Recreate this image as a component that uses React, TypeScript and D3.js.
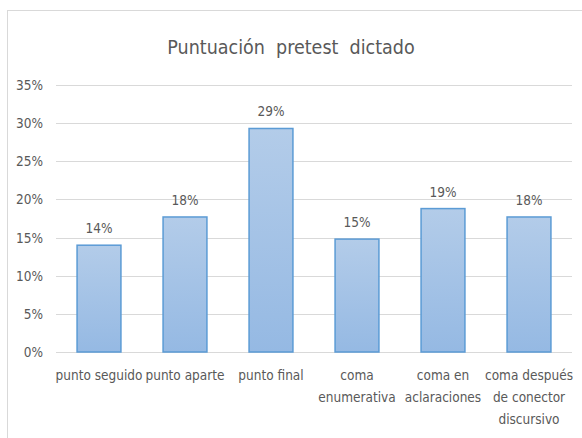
import React, { useEffect, useRef } from 'react';
import * as d3 from 'd3';

const svgWidth = 582;
const svgHeight = 438;
const margin = { left: 56, right: 10, top: 85, bottom: 86 };

const CATEGORIES = ['punto seguido', 'punto aparte', 'punto final', 'coma enumerativa', 'coma en aclaraciones', 'coma después de conector discursivo'];
// how each category label breaks into lines under the axis
const CATEGORY_LINES = [['punto seguido'], ['punto aparte'], ['punto final'], ['coma', 'enumerativa'], ['coma en', 'aclaraciones'], ['coma después', 'de conector', 'discursivo']];
const VALUES = [0.14, 0.177, 0.293, 0.148, 0.188, 0.177];
const Y_TICKS = [0, 0.05, 0.1, 0.15, 0.2, 0.25, 0.3, 0.35];
const TITLE = 'Puntuación  pretest  dictado';

const FONT = "'Liberation Sans Narrow', 'DejaVu Sans Condensed', sans-serif";
const TEXT = '#595959';

const App = () => {
    const ref = useRef<SVGSVGElement | null>(null);

    useEffect(() => {
        const svg = d3.select(ref.current);
        svg.selectAll('*').remove();

        const width = svgWidth - margin.left - margin.right;
        const plotBottom = 352;

        const x = d3.scaleBand().domain(CATEGORIES).range([margin.left, margin.left + width]).paddingInner(0.49).paddingOuter(0.245);
        const y = d3.scaleLinear().domain([0, 0.35]).range([plotBottom, margin.top]);

        const defs = svg.append('defs');
        const grad = defs.append('linearGradient').attr('id', 'barGrad')
            .attr('x1', 0).attr('y1', 0).attr('x2', 0).attr('y2', 1);
        grad.append('stop').attr('offset', '0%').attr('stop-color', '#b3cce9');
        grad.append('stop').attr('offset', '100%').attr('stop-color', '#95b9e3');

        // chart frame
        svg.append('rect')
            .attr('x', 7.5).attr('y', 10.5)
            .attr('width', 580).attr('height', 440)
            .attr('fill', 'white').attr('stroke', '#d9d9d9');

        svg.append('text')
            .attr('x', 291).attr('y', 54)
            .attr('text-anchor', 'middle')
            .attr('font-family', FONT).attr('font-size', 19.5)
            .attr('fill', TEXT)
            .style('white-space', 'pre')
            .text(TITLE);

        // gridlines + y labels
        const grid = svg.append('g');
        grid.selectAll('line').data(Y_TICKS).enter().append('line')
            .attr('x1', margin.left).attr('x2', margin.left + width)
            .attr('y1', d => Math.round(y(d)) + 0.5).attr('y2', d => Math.round(y(d)) + 0.5)
            .attr('stroke', '#d9d9d9').attr('stroke-width', 1);
        grid.selectAll('text').data(Y_TICKS).enter().append('text')
            .attr('x', 43).attr('y', d => y(d) + 5)
            .attr('text-anchor', 'end')
            .attr('font-family', FONT).attr('font-size', 13.5)
            .attr('fill', TEXT)
            .text(d => d3.format('.0%')(d));

        // bars
        svg.append('g').selectAll('rect').data(VALUES).enter().append('rect')
            .attr('x', (d, i) => (x(CATEGORIES[i]) as number))
            .attr('y', d => y(d))
            .attr('width', x.bandwidth())
            .attr('height', d => plotBottom - y(d))
            .attr('fill', 'url(#barGrad)')
            .attr('stroke', '#5b9bd5').attr('stroke-width', 1.5);

        // value labels
        svg.append('g').selectAll('text').data(VALUES).enter().append('text')
            .attr('x', (d, i) => (x(CATEGORIES[i]) as number) + x.bandwidth() / 2)
            .attr('y', d => y(d) - 12)
            .attr('text-anchor', 'middle')
            .attr('font-family', FONT).attr('font-size', 13.5)
            .attr('fill', TEXT)
            .text(d => d3.format('.0%')(d));

        // category labels
        const cats = svg.append('g').selectAll('text').data(CATEGORIES).enter().append('text')
            .attr('x', d => (x(d) as number) + x.bandwidth() / 2)
            .attr('y', 380)
            .attr('text-anchor', 'middle')
            .attr('font-family', FONT).attr('font-size', 13.5)
            .attr('fill', TEXT);
        cats.selectAll('tspan').data((d, i) => CATEGORY_LINES[i]).enter().append('tspan')
            .attr('x', function () { return (this.parentNode as SVGTextElement).getAttribute('x'); })
            .attr('dy', (d, i) => (i === 0 ? 0 : 22))
            .text(d => d);
    }, []);

    return (
        <svg ref={ref} width={svgWidth} height={svgHeight}
            style={{ position: 'absolute', left: 0, top: 0, background: 'white' }} />
    );
};

export default App;
